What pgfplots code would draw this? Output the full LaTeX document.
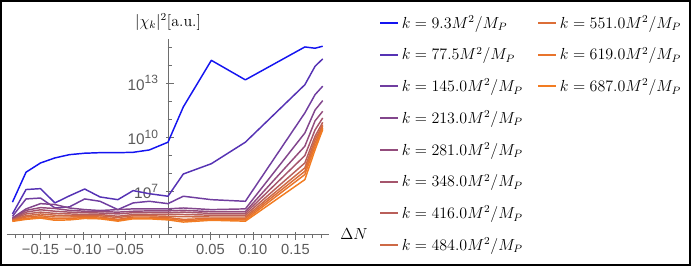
\documentclass[border=0pt]{standalone}
\usepackage{fontspec}
\usepackage{pgfplots}
\usepackage{pgfplotstable}
\pgfplotsset{compat=1.18}
\newfontfamily\tickfont{Liberation Sans}
\definecolor{c1}{RGB}{20,20,240}
\definecolor{c2}{RGB}{85,50,180}
\definecolor{c3}{RGB}{112,62,160}
\definecolor{c4}{RGB}{130,70,140}
\definecolor{c5}{RGB}{147,76,124}
\definecolor{c6}{RGB}{165,85,108}
\definecolor{c7}{RGB}{185,95,90}
\definecolor{c8}{RGB}{205,105,70}
\definecolor{c9}{RGB}{220,110,55}
\definecolor{c10}{RGB}{232,116,44}
\definecolor{c11}{RGB}{242,124,34}
\definecolor{axgray}{RGB}{110,110,110}
\definecolor{labgray}{RGB}{90,90,90}
\newcommand{\ylab}[1]{{\fontsize{11.5}{13}\selectfont 10}\raisebox{0.9ex}{\fontsize{9}{10}\selectfont #1}}
% columns c1..c11: log10 of |chi_k|^2 for the eleven k values
\pgfplotstableread{
x c1 c2 c3 c4 c5 c6 c7 c8 c9 c10 c11
-0.183 6.40 5.75 5.62 5.53 5.48 5.45 5.42 5.40 5.38 5.36 5.34
-0.167 8.06 7.10 6.58 6.03 5.95 5.85 5.75 5.65 5.58 5.50 5.45
-0.150 8.57 7.15 6.63 6.32 6.10 5.98 5.85 5.75 5.65 5.58 5.52
-0.133 8.85 6.36 6.08 6.27 6.05 5.90 5.78 5.68 5.58 5.48 5.40
-0.116 9.03 6.75 6.14 6.08 5.95 5.85 5.75 5.65 5.58 5.50 5.42
-0.098 9.11 7.13 6.58 5.99 5.90 5.82 5.72 5.65 5.60 5.55 5.50
-0.080 9.14 6.69 6.45 5.94 5.88 5.80 5.72 5.65 5.58 5.52 5.48
-0.059 9.14 6.54 5.99 5.99 5.85 5.75 5.62 5.55 5.45 5.40 5.35
-0.041 9.16 7.04 6.36 6.03 5.90 5.82 5.72 5.65 5.58 5.52 5.48
-0.022 9.29 6.87 6.45 6.03 5.92 5.83 5.73 5.65 5.58 5.52 5.48
0.000 9.72 6.73 6.32 6.03 5.92 5.82 5.72 5.62 5.55 5.48 5.42
0.018 11.67 7.96 6.73 6.08 5.95 5.85 5.72 5.60 5.45 5.38 5.30
0.051 14.25 8.53 6.54 5.99 5.88 5.78 5.68 5.58 5.50 5.45 5.40
0.091 13.17 9.72 6.45 6.03 5.88 5.78 5.68 5.58 5.50 5.42 5.35
0.161 14.99 12.90 11.34 10.23 9.50 8.98 8.57 8.30 8.11 7.93 7.65
0.173 14.92 13.92 12.35 11.50 10.90 10.40 10.05 9.86 9.68 9.50 9.30
0.182 15.03 14.33 12.82 12.02 11.43 11.06 10.82 10.69 10.60 10.50 10.42
}\chidata
\pgfplotsset{
  mylegend/.style={
    legend image code/.code={\draw[##1, line width=1.4pt] (0pt,0pt) -- (13.5pt,0pt);},
    legend style={draw=none, fill=none, font=\fontsize{12}{14}\selectfont, row sep=8.8pt},
    legend cell align=left,
  },
}
\begin{document}
\begin{tikzpicture}
\useasboundingbox (-5.25pt,-25.5pt) rectangle (514.5pt,175.5pt);
\begin{axis}[
  scale only axis, width=241.5pt, height=146.25pt,
  xmin=-0.1894, xmax=0.1894, ymin=4.64, ymax=15.43,
  axis x line=bottom, axis y line=middle,
  axis line style={-, draw=axgray, line width=0.5pt},
  xtick={-0.15,-0.1,-0.05,0.05,0.1,0.15},
  xticklabels={−0.15,−0.10,−0.05,0.05,0.10,0.15},
  minor xtick={-0.18,-0.17,-0.16,-0.14,-0.13,-0.12,-0.11,-0.09,-0.08,-0.07,-0.06,-0.04,-0.03,-0.02,-0.01,0.01,0.02,0.03,0.04,0.06,0.07,0.08,0.09,0.11,0.12,0.13,0.14,0.16,0.17,0.18},
  ytick={7,10,13},
  yticklabels={\ylab{7},\ylab{10},\ylab{13}},
  minor ytick={5,6,8,9,11,12,14,15},
  tick align=center,
  major tick length=6pt, minor tick length=3.5pt,
  x tick style={axgray, yshift=-1.5pt},
  y tick style={axgray, xshift=1.5pt},
  /pgf/number format/assume math mode=true,
  ticklabel style={font=\tickfont, text=labgray},
  xticklabel style={yshift=-1pt, font=\tickfont\fontsize{11}{12}\selectfont},
  yticklabel style={xshift=-1pt},
  every axis y label/.style={at={(axis description cs:0.5,1)}, anchor=south, yshift=3pt, font=\fontsize{12}{14}\selectfont},
  every axis x label/.style={at={(axis description cs:1,0)}, anchor=west, xshift=5pt, font=\fontsize{12}{14}\selectfont},
  ylabel={$|\chi_k|^2[\mathrm{a.u.}]$},
  xlabel={$\Delta N$},
  clip=false,
  mylegend,
  legend style={at={(axis description cs:1.143,1.149)}, anchor=north west},
  every axis plot/.append style={line width=1.1pt, line join=round},
]
\addplot[c1] table[x=x,y=c1]{\chidata};
\addplot[c2] table[x=x,y=c2]{\chidata};
\addplot[c3] table[x=x,y=c3]{\chidata};
\addplot[c4] table[x=x,y=c4]{\chidata};
\addplot[c5] table[x=x,y=c5]{\chidata};
\addplot[c6] table[x=x,y=c6]{\chidata};
\addplot[c7] table[x=x,y=c7]{\chidata};
\addplot[c8] table[x=x,y=c8]{\chidata};
\addplot[c9] table[x=x,y=c9]{\chidata};
\addplot[c10] table[x=x,y=c10]{\chidata};
\addplot[c11] table[x=x,y=c11]{\chidata};
\legend{$k=9.3M^2/M_P$,$k=77.5M^2/M_P$,$k=145.0M^2/M_P$,$k=213.0M^2/M_P$,$k=281.0M^2/M_P$,$k=348.0M^2/M_P$,$k=416.0M^2/M_P$,$k=484.0M^2/M_P$}
\end{axis}
\begin{axis}[
  scale only axis, width=241.5pt, height=146.25pt,
  xmin=-0.1894, xmax=0.1894, ymin=4.64, ymax=15.43,
  hide axis,
  mylegend,
  legend style={at={(axis description cs:1.634,1.149)}, anchor=north west},
]
\addlegendimage{c9}
\addlegendimage{c10}
\addlegendimage{c11}
\legend{$k=551.0M^2/M_P$,$k=619.0M^2/M_P$,$k=687.0M^2/M_P$}
\end{axis}
\draw[black, line width=0.8pt] (-4.5pt,-23.25pt) rectangle (512.25pt,174.75pt);
\end{tikzpicture}
\end{document}
